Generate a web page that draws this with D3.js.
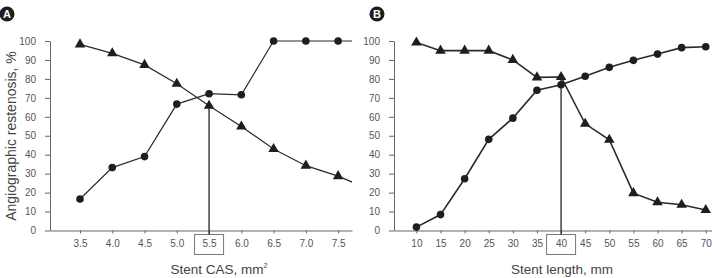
<!DOCTYPE html>
<html>
<head>
<meta charset="utf-8">
<script src="https://cdn.jsdelivr.net/npm/d3@7"></script>
<style>
  body { margin: 0; background: #fff; }
  svg { display: block; font-family: "Liberation Sans", Arial, sans-serif; }
  .axis path, .axis line { stroke: #666; }
  .axis text { fill: #555; font-size: 10px; }
</style>
</head>
<body>
<svg id="chart" width="712" height="278"></svg>
<script>
// Panel A: stent CAS
const casX = [3.5, 4.0, 4.5, 5.0, 5.5, 6.0, 6.5, 7.0, 7.5, 8.0];
const casCircle = [16.6, 33.2, 39, 66.7, 72.2, 71.6, 100, 100, 100, 100];
const casTriangle = [98.2, 93.5, 87.4, 77.4, 65.8, 54.9, 43, 34.2, 28.7, 21.5];
const casTicks = [3.5, 4.0, 4.5, 5.0, 5.5, 6.0, 6.5, 7.0, 7.5];
const casCut = 5.5;

// Panel B: stent length
const lenX = [10, 15, 20, 25, 30, 35, 40, 45, 50, 55, 60, 65, 70];
const lenCircle = [1.8, 8.4, 27.3, 48.1, 59.3, 74, 76.9, 81.4, 86.1, 89.8, 93.1, 96.5, 97];
const lenTriangle = [99.2, 94.9, 94.9, 94.9, 90, 80.8, 81, 56.3, 47.9, 19.7, 14.9, 13.6, 10.8];
const lenTicks = [10, 15, 20, 25, 30, 35, 40, 45, 50, 55, 60, 65, 70];
const lenCut = 40;

const yTicks = [0, 10, 20, 30, 40, 50, 60, 70, 80, 90, 100];

const svg = d3.select("#chart");
const y = d3.scaleLinear().domain([0, 100]).range([230.5, 41]);

function drawPanel(opts) {
  const g = svg.append("g");
  const x = opts.x;
  const [left, right] = x.range();

  g.append("clipPath").attr("id", opts.id + "clip")
    .append("rect").attr("x", left).attr("y", 0)
    .attr("width", right - left).attr("height", 278);

  // y axis
  g.append("g").attr("class", "axis")
    .attr("transform", `translate(${left},0)`)
    .call(d3.axisLeft(y).tickValues(yTicks).tickSize(5).tickPadding(9).tickSizeOuter(0));

  // x axis
  g.append("g").attr("class", "axis")
    .attr("transform", `translate(0,${y(0)})`)
    .call(d3.axisBottom(x).tickValues(opts.ticks).tickFormat(opts.fmt)
      .tickSize(3).tickPadding(6).tickSizeOuter(0));

  // box around cut-off label
  g.append("rect")
    .attr("x", x(opts.cut) - 14.5).attr("y", y(0) + 4)
    .attr("width", 29).attr("height", 20)
    .attr("fill", "none").attr("stroke", "#777").attr("stroke-width", 1);

  // vertical cut-off line
  const cutIdx = opts.xs.indexOf(opts.cut);
  g.append("line")
    .attr("x1", x(opts.cut)).attr("x2", x(opts.cut))
    .attr("y1", y(0) + 4).attr("y2", y(opts.tri[cutIdx]))
    .attr("stroke", "#222").attr("stroke-width", 1.3);

  const plot = g.append("g").attr("clip-path", `url(#${opts.id}clip)`);
  const line = d3.line().x((d, i) => x(opts.xs[i])).y(d => y(d));

  [opts.circ, opts.tri].forEach(s => {
    plot.append("path").datum(s)
      .attr("d", line).attr("fill", "none")
      .attr("stroke", "#2a2a2a").attr("stroke-width", opts.lw);
  });

  plot.selectAll("circle.pt").data(opts.circ).enter().append("circle")
    .attr("cx", (d, i) => x(opts.xs[i])).attr("cy", d => y(d))
    .attr("r", 3.8).attr("fill", "#1e1e1e");

  const tri = d3.symbol().type(d3.symbolTriangle).size(48);
  plot.selectAll("path.tri").data(opts.tri).enter().append("path")
    .attr("class", "tri")
    .attr("transform", (d, i) => `translate(${x(opts.xs[i])},${y(d)})`)
    .attr("d", tri).attr("fill", "#1e1e1e");

  // panel letter
  g.append("circle").attr("cx", opts.letterX).attr("cy", 14).attr("r", 7.5).attr("fill", "#1e1e1e");
  g.append("text").attr("x", opts.letterX).attr("y", 18)
    .attr("text-anchor", "middle").attr("fill", "#fff")
    .attr("font-size", 11).attr("font-weight", "bold").text(opts.letter);

  // x title
  const t = g.append("text").attr("x", opts.titleX).attr("y", 274)
    .attr("text-anchor", "middle").attr("fill", "#444").attr("font-size", 13.5)
    .text(opts.title);
  if (opts.sup) t.append("tspan").attr("dy", -6).attr("font-size", 7).text(opts.sup);
}

drawPanel({
  id: "a", letter: "A", letterX: 7,
  x: d3.scaleLinear().domain([3.035, 7.715]).range([50, 352]),
  xs: casX, circ: casCircle, tri: casTriangle, ticks: casTicks, cut: casCut,
  fmt: d3.format(".1f"), lw: 1.2, title: "Stent CAS, mm", sup: "2", titleX: 219
});

drawPanel({
  id: "b", letter: "B", letterX: 377,
  x: d3.scaleLinear().domain([5.35, 71.3]).range([394, 712]),
  xs: lenX, circ: lenCircle, tri: lenTriangle, ticks: lenTicks, cut: lenCut,
  fmt: d3.format("d"), lw: 1.6, title: "Stent length, mm", titleX: 562
});

// y title
svg.append("text")
  .attr("transform", "translate(16,136) rotate(-90)")
  .attr("text-anchor", "middle").attr("fill", "#444").attr("font-size", 14)
  .text("Angiographic restenosis, %");
</script>
</body>
</html>
